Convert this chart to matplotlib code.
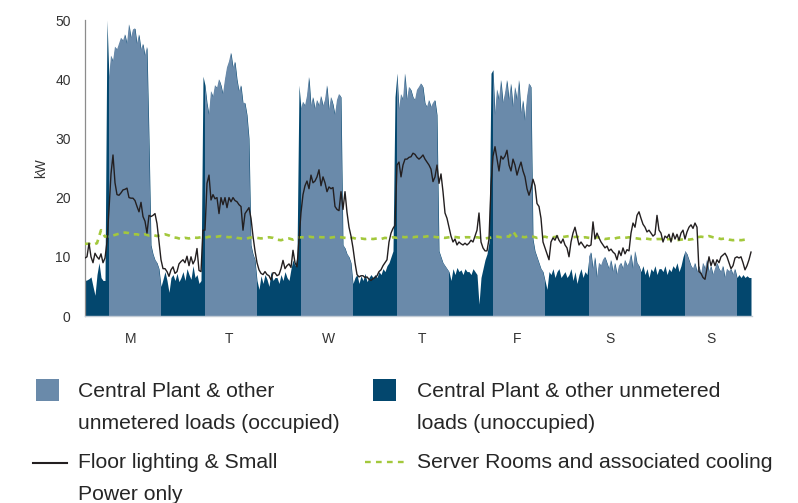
import numpy as np
import matplotlib
matplotlib.use("Agg")
import matplotlib.pyplot as plt
from matplotlib.patches import Rectangle
from matplotlib.lines import Line2D

plt.rcParams['font.family'] = ['Liberation Sans', 'DejaVu Sans']
plt.rcParams['lines.scale_dashes'] = False

# ---------------- data (half-hourly, kW) ----------------
day_labels = ['M', 'T', 'W', 'T', 'F', 'S', 'S']
day_label_hours = [11.5, 36.0, 60.75, 84.25, 108.0, 131.25, 156.5]

# Central plant & other unmetered loads (total area), half-hourly
plant_mon = [6.0, 6.1, 6.3, 6.6, 5.0, 3.5, 7.0, 9.0, 6.5, 6.0, 6.0, 50.0,
             40, 44, 43, 45.5, 45, 46, 47, 46.5, 47.6, 46, 49.3, 47, 48.4, 48.6, 46, 47.6, 45, 46, 44, 45.5,
             30, 12, 10.5, 9.5, 9, 8,
             5.0, 6.2, 7.5, 6.0, 4.0, 6.5, 7.0, 6.0, 7.2, 5.8]
plant_tue = [6.5, 7.5, 6.0, 8.0, 7.0, 6.2, 8.5, 6.5, 7.0, 5.5, 6.0, 40.5,
             39, 36, 34, 38, 37, 39, 38.5, 40, 39, 37.5, 40, 42, 43, 44.5, 42, 43, 40, 38, 39, 36,
             36, 34, 30, 12, 10.5, 9.5,
             6.0, 4.5, 6.8, 5.5, 7.0, 6.2, 5.0, 7.5, 6.0, 6.5]
plant_wed = [6.5, 5.5, 7.0, 6.0, 7.5, 6.5, 6.0, 8.0, 9.5, 8.5, 10.0, 39.0,
             35, 36.2, 35.5, 37.2, 40.4, 35.5, 37, 35, 36.5, 35.5, 37.2, 35.5, 36.5, 39, 34.8, 37,
             35.8, 34, 36.5, 37.5, 37, 12, 11.5, 10.5, 10, 9,
             5.5, 6.5, 7.0, 5.5, 6.8, 6.0, 7.2, 5.8, 6.5, 7.0]
plant_thu = [6.5, 7.0, 6.5, 7.5, 7.0, 8.0, 7.5, 8.5, 9.0, 10.0, 11.0, 37.0,
             41, 34.8, 37.5, 36.5, 41, 36.5, 38.7, 38.2, 37, 36.5, 38.2, 38.7, 39.3, 38.7, 36, 35.3,
             36.5, 35.3, 36, 36.5, 34, 11, 10, 9, 8.5, 8,
             7.5, 6.0, 8.0, 7.0, 8.2, 7.5, 7.8, 7.0, 8.0, 7.5]
plant_fri = [7.5, 7.0, 8.0, 7.5, 7.0, 2.0, 6.5, 8.0, 9.5, 10.5, 12.5, 41.0,
             41.6, 34, 38.3, 36.5, 39.9, 36, 37.6, 39.9, 36.5, 39.3, 35.3, 38.7, 36.5, 39.9, 34.2, 36.5,
             33, 37, 39.3, 38.7, 13, 11, 10, 9, 8, 7.5,
             6.0, 4.5, 7.5, 7.0, 8.0, 6.5, 7.5, 8.0, 6.5, 7.0]
plant_sat = [7.5, 6.5, 7.0, 8.0, 6.0, 7.5, 5.5, 7.0, 8.0, 6.5, 7.5, 7.0,
             10.0, 10.8, 8.0, 10.0, 6.5, 9.0, 8.5, 9.5, 10.0, 9.0, 8.0, 9.5, 7.5, 9.0, 7.0, 8.5,
             9.0, 8.0, 9.5, 8.5, 9.0, 10.5, 8.0, 11.0, 9.0, 8.5,
             7.5, 8.5, 7.0, 8.0, 6.5, 8.0, 7.5, 8.5, 7.0, 8.0]
plant_sun = [8.0, 7.5, 8.5, 7.0, 8.0, 7.5, 8.5, 8.0, 9.0, 7.5, 8.5, 10.0,
             11.0, 10.5, 9.5, 8.5, 8.0, 9.0, 7.5, 8.5, 7.0, 9.0, 8.0, 9.5, 7.5, 8.5, 7.0, 8.0,
             9.0, 8.0, 7.5, 8.5, 6.5, 8.0, 7.5, 8.0, 7.0, 8.0,
             6.5, 7.0, 6.5, 7.0, 6.5, 6.8, 6.5, 6.5]

# Floor lighting & small power, half-hourly
light_mon = [9.8, 10.0, 12.3, 10.0, 9.0, 10.6, 10.0, 9.6, 10.5, 9.0,
             9.8, 12.5, 18.0, 24.0, 27.2, 22.5, 20.5, 20.4, 20.8, 21.3,
             21.4, 21.6, 20.0, 19.9, 19.9, 19.5, 18.5, 17.6, 19.2, 16.8,
             16.0, 14.0, 17.0, 16.8, 17.0, 17.3, 15.6, 12.5, 9.5, 8.0,
             8.0, 7.5, 6.7, 7.8, 8.3, 7.2, 7.5, 8.8]
light_tue = [9.2, 9.5, 9.0, 10.1, 8.5, 10.0, 8.8, 9.5, 11.4, 7.7,
             7.5, 14.5, 14.5, 22.4, 23.8, 19.6, 20.5, 19.8, 20.0, 17.3,
             20.0, 18.8, 20.0, 18.3, 20.0, 19.3, 20.0, 19.5, 19.3, 18.8,
             18.5, 14.5, 17.3, 17.8, 18.3, 16.5, 13.5, 11.0, 9.0, 7.8,
             7.2, 7.0, 7.5, 7.0, 6.8, 6.1, 7.3, 7.3]
light_wed = [6.8, 7.0, 8.0, 9.4, 8.0, 8.5, 8.8, 8.2, 11.1, 9.0,
             8.3, 13.0, 17.5, 20.5, 22.0, 22.8, 21.5, 23.8, 22.5, 22.8,
             23.5, 24.7, 22.0, 23.5, 22.5, 21.0, 21.8, 21.5, 21.7, 18.5,
             18.0, 17.8, 21.0, 18.0, 21.0, 17.5, 15.0, 13.5, 11.5, 9.0,
             7.0, 6.6, 6.8, 6.8, 6.5, 6.6, 6.2, 6.0]
light_thu = [6.3, 6.5, 6.8, 7.5, 7.8, 8.5, 9.0, 9.5, 12.5, 14.0,
             14.8, 15.3, 25.5, 26.0, 23.5, 25.5, 26.5, 26.5, 26.8, 26.9,
             27.5, 27.3, 26.8, 26.5, 26.8, 27.2, 26.5, 26.0, 25.5, 24.8,
             22.7, 23.5, 25.5, 22.4, 24.0, 21.0, 17.4, 16.5, 15.0, 13.5,
             12.5, 13.0, 12.0, 12.5, 12.2, 12.0, 12.3, 12.0]
light_fri = [12.3, 12.8, 12.5, 13.5, 14.5, 17.4, 12.5, 11.5, 11.0, 11.0,
             13.0, 22.0, 27.0, 28.6, 26.5, 24.5, 27.0, 26.5, 27.0, 28.0,
             25.5, 24.5, 26.5, 25.5, 23.8, 25.0, 26.0, 24.5, 23.5, 21.5,
             20.4, 21.5, 23.1, 22.0, 19.0, 18.5, 16.5, 12.5, 11.5, 10.5,
             9.5, 12.5, 13.2, 12.8, 13.6, 12.8, 12.3, 13.0]
light_sat = [12.0, 11.5, 10.0, 12.5, 14.0, 15.0, 13.5, 12.0, 12.5, 12.0,
             11.5, 12.0, 11.8, 12.0, 15.9, 13.0, 14.0, 13.2, 12.5, 12.0,
             11.5, 11.8, 11.0, 11.3, 10.8, 10.5, 9.5, 11.0, 10.2, 11.5,
             10.5, 11.2, 11.0, 14.0, 15.7, 15.0, 17.0, 17.6, 16.5, 15.5,
             15.0, 14.2, 14.5, 14.0, 13.5, 13.8, 17.0, 14.5]
light_sun = [14.0, 12.5, 13.5, 13.2, 13.8, 12.5, 14.0, 13.0, 13.8, 12.8,
             14.0, 14.5, 13.0, 14.2, 15.0, 15.4, 14.8, 15.7, 15.0, 7.5,
             7.2, 6.5, 6.2, 8.0, 10.0, 8.5, 9.5, 8.5, 9.5, 9.0,
             10.0, 10.3, 10.6, 10.0, 9.0, 8.0, 8.5, 9.8, 10.0, 9.8,
             10.0, 9.0, 7.8, 8.5, 9.5, 10.8]

# Server rooms and associated cooling, hourly
server_mon = [12.2, 12.2, 12.0, 12.3, 14.5, 13.4, 13.5, 13.6, 13.8, 14.0, 14.1, 14.0,
              13.8, 13.8, 13.6, 13.8, 13.6, 13.7, 13.5, 13.7, 13.8, 13.6, 13.3, 13.2]
server_tue = [13.0, 13.2, 13.1, 13.3, 13.2, 13.3, 13.2, 13.4, 13.3, 13.4, 13.5, 13.4,
              13.3, 13.4, 13.2, 13.1, 13.0, 13.2, 13.3, 13.2, 13.1, 13.2, 13.3, 13.2]
server_wed = [12.9, 12.8, 13.0, 13.1, 12.9, 13.2, 13.3, 13.3, 13.4, 13.3, 13.4, 13.3,
              13.3, 13.2, 13.3, 13.4, 13.3, 13.2, 13.1, 13.2, 13.0, 13.1, 13.0, 13.1]
server_thu = [13.0, 13.1, 13.0, 13.2, 13.1, 13.3, 13.2, 13.4, 13.3, 13.4, 13.3, 13.4,
              13.3, 13.4, 13.5, 13.4, 13.3, 13.3, 13.2, 13.3, 13.4, 13.3, 13.2, 13.3]
server_fri = [13.3, 13.2, 13.3, 13.2, 13.1, 13.2, 13.3, 13.4, 13.3, 13.5, 13.4, 14.3,
              13.3, 13.4, 13.3, 13.5, 13.4, 13.2, 13.3, 13.4, 13.2, 13.3, 13.4, 13.3]
server_sat = [13.4, 13.5, 13.3, 13.4, 13.2, 13.3, 13.2, 13.1, 13.3, 13.2, 13.0, 13.1,
              13.0, 13.2, 13.3, 13.2, 13.3, 13.2, 13.1, 13.0, 13.1, 13.0, 12.9, 13.0]
server_sun = [13.0, 12.9, 13.0, 12.9, 12.8, 12.9, 13.0, 12.9, 13.0, 13.3, 13.4, 13.3,
              13.5, 13.3, 13.2, 13.0, 13.1, 12.9, 12.8, 12.9, 12.8, 12.9, 12.8]

legend_labels = [
    ["Central Plant & other", "unmetered loads (occupied)"],
    ["Central Plant & other unmetered", "loads (unoccupied)"],
    ["Floor lighting & Small", "Power only"],
    ["Server Rooms and associated cooling"],
]

# ---------------- assemble ----------------
plant = np.array(plant_mon + plant_tue + plant_wed + plant_thu + plant_fri + plant_sat + plant_sun)
lighting = np.array(light_mon + light_tue + light_wed + light_thu + light_fri + light_sat + light_sun)
server = np.array(server_mon + server_tue + server_wed + server_thu + server_fri + server_sat + server_sun)

t = np.arange(len(plant)) * 0.5
t_light = np.arange(len(lighting)) * 0.5
t_server = np.arange(len(server)) * 1.0
hod = t % 24
occupied = (hod >= 6) & (hod <= 19)

LIGHT = '#6a8aaa'
DARK = '#03476e'
GREEN = '#a3c83c'
BLACK = '#231f20'
TXT = '#262626'

W, H = 798, 503
fig = plt.figure(figsize=(W / 100, H / 100), dpi=100)
ax = fig.add_axes([85 / W, 1 - 316 / H, (752 - 85) / W, (316 - 20) / H])

ax.fill_between(t, 0, plant, color=DARK, lw=0, zorder=1)
ax.fill_between(t, 0, plant, where=occupied, color=LIGHT, lw=0, zorder=2)
ax.plot(t_server, server, color=GREEN, lw=1.9, linestyle=(0, (4.0, 3.6)), zorder=3)
ax.plot(t_light, lighting, color=BLACK, lw=1.0, zorder=4)

ax.set_xlim(0, 166.75)
ax.set_ylim(0, 50)
ax.set_yticks([0, 10, 20, 30, 40, 50])
ax.set_xticks(day_label_hours)
ax.set_xticklabels(day_labels)
ax.tick_params(axis='y', length=0, pad=10.3, labelsize=10, labelcolor='#333333')
ax.tick_params(axis='x', length=0, pad=11.5, labelsize=10, labelcolor='#333333')
for s in ['top', 'right']:
    ax.spines[s].set_visible(False)
ax.spines['left'].set_color('#8c8c8c')
ax.spines['left'].set_linewidth(0.9)
ax.spines['bottom'].set_color('#c3ccd6')
ax.spines['bottom'].set_linewidth(1.0)

fig.text(41 / W, 1 - 168.5 / H, 'kW', rotation=90, ha='center', va='center',
         fontsize=9.8, color='#333333')

# ---------------- legend ----------------
def fx(x):
    return x / W

def fy(y):
    return 1 - y / H

fs = 15.2
fig.add_artist(Rectangle((fx(36), fy(401)), 23 / W, 22 / H, transform=fig.transFigure,
                         color=LIGHT, lw=0))
fig.add_artist(Rectangle((fx(373), fy(401)), 23 / W, 22 / H, transform=fig.transFigure,
                         color=DARK, lw=0))
fig.add_artist(Line2D([fx(33), fx(67)], [fy(462.5)] * 2, transform=fig.transFigure,
                      color=BLACK, lw=1.5))
fig.add_artist(Line2D([fx(365), fx(407)], [fy(461.5)] * 2, transform=fig.transFigure,
                      color=GREEN, lw=1.7, linestyle=(0, (4.1, 3.8))))

text_pos = [(78, [397, 429]), (417, [397, 429]), (78, [468.5, 500.5]), (417, [468.5])]
for (x, ys), lines in zip(text_pos, legend_labels):
    for y, s in zip(ys, lines):
        fig.text(fx(x), fy(y), s, ha='left', va='baseline', fontsize=fs, color=TXT)

fig.savefig('out.png', dpi=100)
